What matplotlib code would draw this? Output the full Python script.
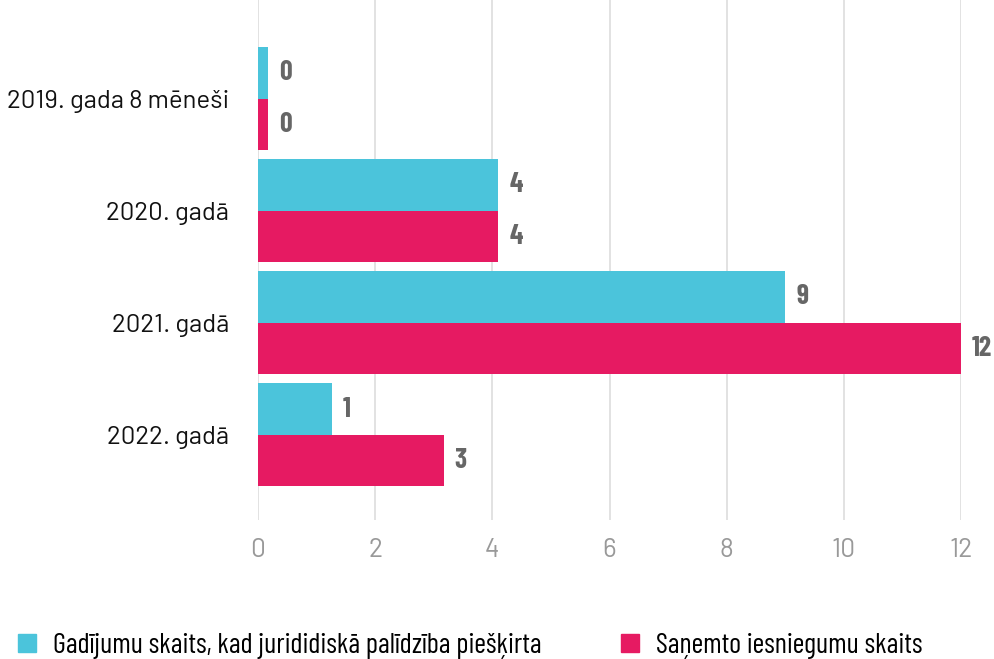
import matplotlib.pyplot as plt
from matplotlib.patches import Patch

# Data
categories = ['2019. gada 8 mēneši', '2020. gadā', '2021. gadā', '2022. gadā']
granted = [0.17, 4.1, 9.0, 1.26]        # bar lengths as drawn
received = [0.17, 4.1, 12.0, 3.17]
granted_labels = ['0', '4', '9', '1']
received_labels = ['0', '4', '12', '3']
series_names = ['Gadījumu skaits, kad jurididiskā palīdzība piešķirta',
                'Saņemto iesniegumu skaits']
xticks = [0, 2, 4, 6, 8, 10, 12]

c_cyan = '#4BC4DB'
c_mag = '#E61A62'
regular = ['Barlow', 'Roboto', 'DejaVu Sans']
narrow = ['Barlow Condensed', 'Roboto Condensed', 'DejaVu Sans']

fig = plt.figure(figsize=(9.95, 6.59), dpi=100)
ax = fig.add_axes([258/995, 1 - 520/659, 703/995, 520/659])

h = 0.46
pos = list(range(len(categories)))
ax.barh([p - h/2 for p in pos], granted, height=h, color=c_cyan, zorder=2)
ax.barh([p + h/2 for p in pos], received, height=h, color=c_mag, zorder=2)

for p, v, t in zip(pos, granted, granted_labels):
    ax.annotate(t, (v, p - h/2), xytext=(8, 0), textcoords='offset points',
                ha='left', va='center', fontsize=20, fontweight='bold',
                color='#666666', family=narrow, annotation_clip=False)
for p, v, t in zip(pos, received, received_labels):
    ax.annotate(t, (v, p + h/2), xytext=(8, 0), textcoords='offset points',
                ha='left', va='center', fontsize=20, fontweight='bold',
                color='#666666', family=narrow, annotation_clip=False)

ax.set_xlim(0, 12)
ax.set_ylim(3.76, -0.88)
ax.set_xticks(xticks)
ax.set_xticklabels([str(x) for x in xticks], color='#999999', fontsize=19,
                   family=regular)
ax.set_yticks(pos)
ax.set_yticklabels(categories, fontsize=18.5, color='#111111', family=regular)
ax.tick_params(length=0)
ax.tick_params(axis='y', pad=21)
ax.tick_params(axis='x', pad=13)
ax.grid(axis='x', color='#dddddd', linewidth=1.2, zorder=0)
for s in ax.spines.values():
    s.set_visible(False)

handles = [Patch(color=c_cyan), Patch(color=c_mag)]
fig.legend(handles, series_names, loc='center left',
           bbox_to_anchor=(18/995, 1 - 646/659),
           ncol=2, frameon=False, borderpad=0, borderaxespad=0,
           handlelength=0.63, handleheight=0.63,
           handletextpad=0.6, columnspacing=2.8,
           prop={'family': narrow, 'size': 20.5})

fig.savefig('out.png', dpi=100)
